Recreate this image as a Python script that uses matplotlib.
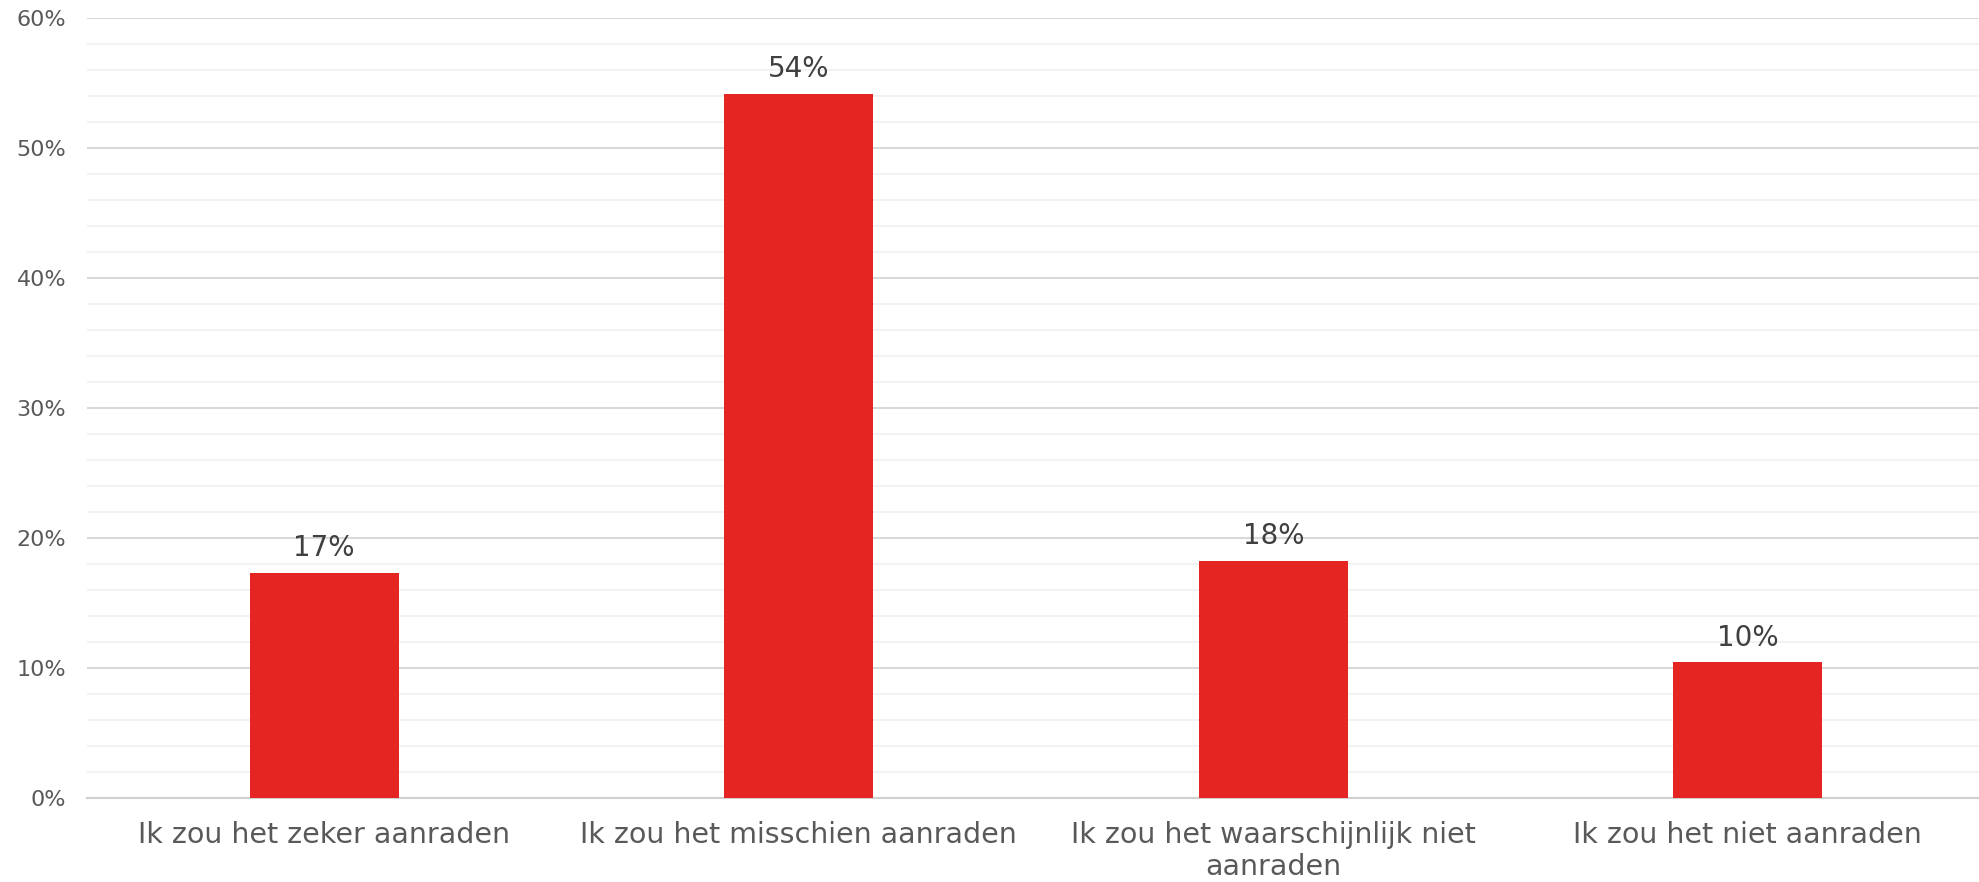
import matplotlib
matplotlib.use('Agg')
import matplotlib.pyplot as plt
from matplotlib.ticker import MultipleLocator, FuncFormatter

# Survey answers and share of respondents (%)
categories = [
    "Ik zou het zeker aanraden",
    "Ik zou het misschien aanraden",
    "Ik zou het waarschijnlijk niet\naanraden",
    "Ik zou het niet aanraden",
]
values = [17.3, 54.1, 18.2, 10.4]
value_labels = ["17%", "54%", "18%", "10%"]

bar_color = "#E52521"

plt.rcParams['font.family'] = ['DejaVu Sans']

fig = plt.figure(figsize=(19.79, 8.82), dpi=100)
ax = fig.add_axes([87 / 1979, 84.3 / 882, (1985 - 87) / 1979, (797.7 - 17.5) / 882])

x = range(len(categories))
bars = ax.bar(x, values, width=0.314, color=bar_color, zorder=3)

# value labels above the bars
for b, lab in zip(bars, value_labels):
    ax.annotate(lab, (b.get_x() + b.get_width() / 2, b.get_height()),
                xytext=(0, 12.2), textcoords='offset points',
                ha='center', va='baseline', fontsize=20, color='#404040')

ax.set_xlim(-0.5, 3.5)
ax.set_ylim(0, 60)
ax.yaxis.set_major_locator(MultipleLocator(10))
ax.yaxis.set_minor_locator(MultipleLocator(2))
ax.yaxis.set_major_formatter(FuncFormatter(lambda v, p: f"{v:.0f}%"))

ax.grid(axis='y', which='major', color='#d9d9d9', linewidth=1.5, zorder=0)
ax.grid(axis='y', which='minor', color='#f2f2f2', linewidth=1.5, zorder=0)
ax.set_axisbelow(True)

for s in ['top', 'right', 'left']:
    ax.spines[s].set_visible(False)
ax.spines['bottom'].set_color('#d0d0d0')
ax.spines['bottom'].set_linewidth(1.5)

ax.set_xticks(list(x))
ax.set_xticklabels(categories, fontsize=20.5, color='#595959', linespacing=1.15)
ax.tick_params(axis='x', length=0, pad=17)
ax.tick_params(axis='y', which='both', length=0, pad=15, labelsize=16, labelcolor='#595959')

fig.savefig("out.png", dpi=100)
